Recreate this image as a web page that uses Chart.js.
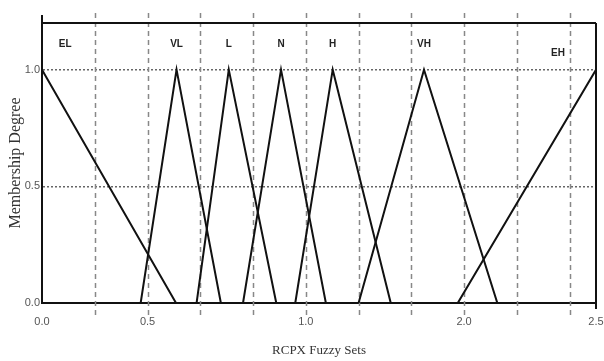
<!DOCTYPE html>
<html>
<head>
<meta charset="utf-8">
<script src="https://cdn.jsdelivr.net/npm/chart.js@4"></script>
<style>
  body { margin: 0; background: #fff; }
</style>
</head>
<body>
<canvas id="mainChart" width="604" height="361"></canvas>
<script>
// fuzzy sets, x given in axis grid units (the axis is not linear in RCPX)
const setNames = ["EL", "VL", "L", "N", "H", "VH", "EH"]
const setLeft  = [0,    1.87, 2.93, 3.81, 4.80, 6.00, 7.88]
const setPeak  = [0,    2.55, 3.54, 4.53, 5.51, 7.24, 10.5]
const setRight = [2.54, 3.39, 4.44, 5.38, 6.61, 8.63, 10.5]

const xTickValues = [0, 2, 5, 8, 10.5]
const xTickLabels = ["0.0", "0.5", "1.0", "2.0", "2.5"]
const xGridValues = [1, 2, 3, 4, 5, 6, 7, 8, 9, 10]
const yTickValues = [0, 0.5, 1.0]
const yTickLabels = ["0.0", "0.5", "1.0"]
const yMax = 1.2

let datasets = []
setNames.forEach((name, i) => {
    datasets.push({
        label: name,
        data: [
            { x: setLeft[i], y: 0 },
            { x: setPeak[i], y: 1 },
            { x: setRight[i], y: 0 }
        ],
        showLine: true,
        borderColor: "#111",
        borderWidth: 2,
        pointRadius: 0,
        fill: false
    })
})

const framePlugin = {
    id: "frame",
    beforeDatasetsDraw(chart) {
        const ctx = chart.ctx
        const xs = chart.scales.x
        const area = chart.chartArea
        ctx.save()
        ctx.strokeStyle = "#888"
        ctx.lineWidth = 1.5
        ctx.setLineDash([5, 4])
        xGridValues.forEach(v => {
            const px = Math.round(xs.getPixelForValue(v)) + 0.5
            ctx.beginPath()
            ctx.moveTo(px, area.top - 10)
            ctx.lineTo(px, area.bottom + 14)
            ctx.stroke()
        })
        ctx.restore()
    },
    afterDraw(chart) {
        const ctx = chart.ctx
        const xs = chart.scales.x
        const ys = chart.scales.y
        const area = chart.chartArea
        ctx.save()
        ctx.strokeStyle = "#111"
        ctx.lineWidth = 2
        ctx.beginPath()
        ctx.moveTo(area.left, area.top)
        ctx.lineTo(area.right, area.top)
        ctx.moveTo(area.right, area.top)
        ctx.lineTo(area.right, area.bottom + 6)
        ctx.moveTo(area.left, area.top - 8)
        ctx.lineTo(area.left, area.top)
        ctx.stroke()

        // set names above the peaks
        ctx.fillStyle = "#222"
        ctx.font = "bold 10px 'Liberation Sans', sans-serif"
        ctx.textAlign = "center"
        ctx.textBaseline = "middle"
        setNames.forEach((name, i) => {
            const lx = Math.min(Math.max(setPeak[i], 0.44), 9.78)
            const ly = name === "EH" ? 1.07 : 1.11
            ctx.fillText(name, xs.getPixelForValue(lx), ys.getPixelForValue(ly))
        })
        ctx.restore()
    }
}

const ctx = document.getElementById("mainChart").getContext("2d")
window.myChart = new Chart(ctx, {
    type: "scatter",
    data: { datasets: datasets },
    plugins: [framePlugin],
    options: {
        responsive: false,
        animation: false,
        layout: { padding: { top: 23, right: 8, left: 0, bottom: 0 } },
        plugins: {
            legend: { display: false },
            tooltip: { enabled: false }
        },
        scales: {
            x: {
                type: "linear",
                min: 0,
                max: 10.5,
                afterBuildTicks: axis => {
                    axis.ticks = xTickValues.map(v => ({ value: v }))
                },
                afterFit: axis => {
                    axis.height = 58
                    axis.paddingLeft = 0
                    axis.paddingRight = 0
                },
                ticks: {
                    autoSkip: false,
                    maxRotation: 0,
                    padding: 12,
                    color: "#555",
                    font: { family: "'Liberation Sans', sans-serif", size: 11 },
                    callback: (value) => {
                        const idx = xTickValues.indexOf(value)
                        return idx >= 0 ? xTickLabels[idx] : ""
                    }
                },
                grid: { display: false, drawTicks: false },
                border: { display: true, color: "#111", width: 2 },
                title: {
                    display: true,
                    text: "RCPX Fuzzy Sets",
                    color: "#333",
                    font: { family: "'Liberation Serif', serif", size: 13 },
                    padding: { top: 0, bottom: 3 }
                }
            },
            y: {
                type: "linear",
                min: 0,
                max: yMax,
                afterBuildTicks: axis => {
                    axis.ticks = yTickValues.map(v => ({ value: v }))
                },
                afterFit: axis => {
                    axis.width = 42
                    axis.paddingTop = 0
                    axis.paddingBottom = 0
                },
                ticks: {
                    padding: 2,
                    color: "#555",
                    font: { family: "'Liberation Sans', sans-serif", size: 11 },
                    callback: (value) => {
                        const idx = yTickValues.indexOf(value)
                        return idx >= 0 ? yTickLabels[idx] : ""
                    }
                },
                grid: {
                    drawTicks: false,
                    color: c => c.tick && c.tick.value === 0 ? "rgba(0,0,0,0)" : "#666",
                    lineWidth: 1.5
                },
                border: { display: true, color: "#111", width: 2, dash: [2, 2] },
                title: {
                    display: true,
                    text: "Membership Degree",
                    color: "#333",
                    font: { family: "'Liberation Serif', serif", size: 16 },
                    padding: { top: 6, bottom: 0 }
                }
            }
        }
    }
})
</script>
</body>
</html>
